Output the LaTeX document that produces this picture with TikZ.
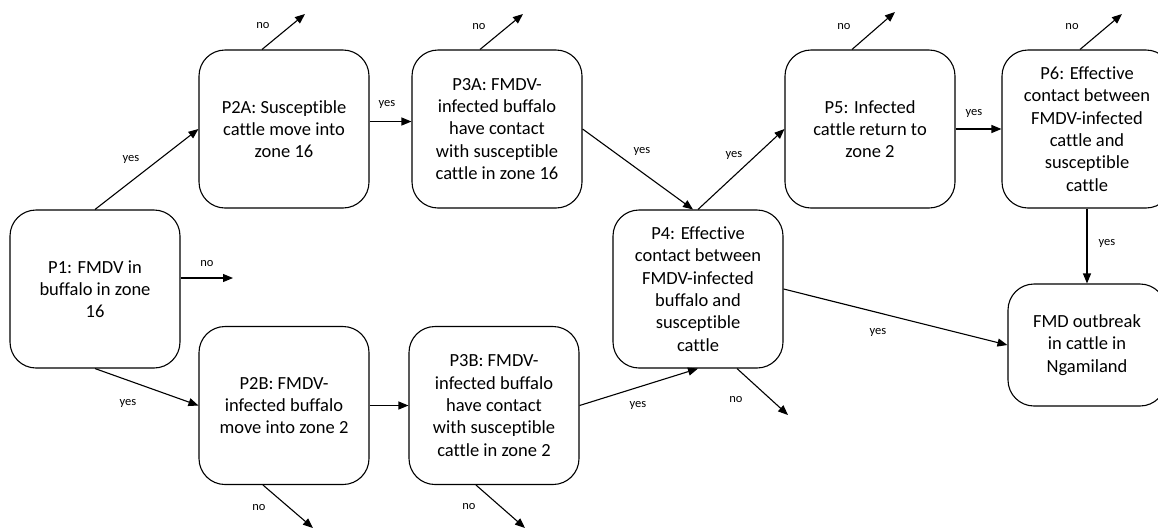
\documentclass[tikz,border=0pt]{standalone}
\usepackage{fontspec}
\setmainfont[Ligatures=NoCommon]{Carlito}
\usetikzlibrary{arrows.meta}

\tikzset{every picture/.style={line width=1.1pt}}
\tikzset{
  pbox/.style={draw, rounded corners=26pt, align=center, inner sep=2pt,
    font=\fontsize{18.5}{22.3}\selectfont, minimum width=170pt, minimum height=158pt},
  lbl/.style={font=\fontsize{12.5}{15}\selectfont, inner sep=0.75pt},
  arr/.style={-{Triangle[length=10pt,width=8pt]}},
}

\begin{document}
\begin{tikzpicture}[x=1pt,y=1pt,yscale=-1,xscale=1]
\useasboundingbox (0,0) rectangle (1158,531);
\clip (0,0) rectangle (1158,531);

%Rounded Rect
\node [pbox] (p1) at (95,289) {P1: FMDV in\\buffalo in zone\\16};
%Rounded Rect
\node [pbox] (p2a) at (284,129) {P2A: Susceptible\\cattle move into\\zone 16};
%Rounded Rect
\node [pbox] (p2b) at (284,405.5) {P2B: FMDV-\\infected buffalo\\move into zone 2};
%Rounded Rect
\node [pbox] (p3a) at (497,129) {P3A: FMDV-\\infected buffalo\\have contact\\with susceptible\\cattle in zone 16};
%Rounded Rect
\node [pbox] (p3b) at (494,405.5) {P3B: FMDV-\\infected buffalo\\have contact\\with susceptible\\cattle in zone 2};
%Rounded Rect
\node [pbox] (p4) at (698,289) {P4: Effective\\contact between\\FMDV-infected\\buffalo and\\susceptible\\cattle};
%Rounded Rect
\node [pbox] (p5) at (870,129) {P5: Infected\\cattle return to\\zone 2};
%Rounded Rect
\node [pbox] (p6) at (1087,129) {P6: Effective\\contact between\\FMDV-infected\\cattle and\\susceptible\\cattle};
%Rounded Rect
\node [pbox, minimum width=158pt, minimum height=122pt] (fmd) at (1087,345) {FMD outbreak\\in cattle in\\Ngamiland};

%free ends of the no arrows
\coordinate (p1no) at (233,278);
\coordinate (p2ano) at (305,14);
\coordinate (p2bno) at (313,528);
\coordinate (p3ano) at (523,14);
\coordinate (p3bno) at (525,528);
\coordinate (p4no) at (788,415);
\coordinate (p5no) at (895,12);
\coordinate (p6no) at (1122,14);

%Straight Lines
\draw [arr] (p1.north) -- (p2a.west);
%Straight Lines
\draw [arr] (p1.south) -- (p2b.west);
%Straight Lines
\draw [arr] (p1no -| p1.east) -- (p1no);
%Straight Lines
\draw [arr] (p2a.5) -- (p3a.175);
%Straight Lines
\draw [arr] (p2b.east) -- (p3b.west);
%Straight Lines
\draw [arr] (p3a.east) -- ([xshift=-5pt]p4.north);
%Straight Lines
\draw [arr] (p3b.east) -- (p4.south);
%Straight Lines
\draw [arr] (p4.north) -- (p5.west);
%Straight Lines
\draw [arr] (p5.east) -- (p6.west);
%Straight Lines
\draw [arr] (p6.south) -- (fmd.north);
%Straight Lines
\draw [arr] (p4.east) -- (fmd.west);
%Straight Lines
\draw [arr] ([xshift=-22pt]p2a.north) -- (p2ano);
%Straight Lines
\draw [arr] ([xshift=-17pt]p3a.north) -- (p3ano);
%Straight Lines
\draw [arr] ([xshift=-18pt]p5.north) -- (p5no);
%Straight Lines
\draw [arr] ([xshift=-7pt]p6.north) -- (p6no);
%Straight Lines
\draw [arr] ([xshift=-21pt]p2b.south) -- (p2bno);
%Straight Lines
\draw [arr] ([xshift=-18pt]p3b.south) -- (p3bno);
%Straight Lines
\draw [arr] ([xshift=39pt]p4.south) -- (p4no);

% Text Node
\node [lbl] (y1) at (131,159) {yes};
% Text Node
\node [lbl] (y2) at (128,403) {yes};
% Text Node
\node [lbl] (n1) at (207,264) {no};
% Text Node
\node [lbl] (n2a) at (263,26) {no};
% Text Node
\node [lbl] (y2a) at (387,104) {yes};
% Text Node
\node [lbl] (n2b) at (259,508) {no};
% Text Node
\node [lbl] (n3a) at (479,27) {no};
% Text Node
\node [lbl] (y3a) at (642,151) {yes};
% Text Node
\node [lbl] (y4a) at (734,155) {yes};
% Text Node
\node [lbl] (y3b) at (638,405) {yes};
% Text Node
\node [lbl] (n4) at (736,400) {no};
% Text Node
\node [lbl] (n3b) at (469,507) {no};
% Text Node
\node [lbl] (n5) at (844,27) {no};
% Text Node
\node [lbl] (y5) at (974,113) {yes};
% Text Node
\node [lbl] (n6) at (1072,27) {no};
% Text Node
\node [lbl] (y6) at (1107,243) {yes};
% Text Node
\node [lbl] (y4b) at (878,332) {yes};

\end{tikzpicture}
\end{document}
